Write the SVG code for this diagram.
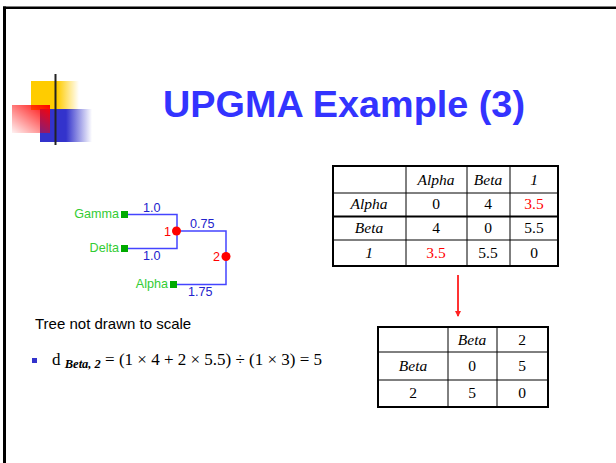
<svg xmlns="http://www.w3.org/2000/svg" width="616" height="463" viewBox="0 0 616 463">
<style>
.tl{font-family:"Liberation Sans",Arial,sans-serif;font-size:12.6px}
.leaf{fill:#33cc33;text-anchor:end}
.br{fill:#2222cc}
.nl{fill:#ff0000}
.edge{stroke:#4444ff;stroke-width:1.5;fill:none}
.sq{fill:#00aa00}
.dot{fill:#ff0000}
.tt{font-family:"Liberation Serif","Times New Roman",serif;font-size:15.5px;text-anchor:middle;fill:#000}
.it{font-style:italic}
.red{fill:#ff0000}
.tb{stroke:#000;fill:none}
</style>
<defs>
<linearGradient id="gy" x1="0" y1="0" x2="1" y2="0"><stop offset="0.55" stop-color="#ffcc00"/><stop offset="1" stop-color="#ffcc00" stop-opacity="0"/></linearGradient>
<linearGradient id="gb" x1="0" y1="0" x2="1" y2="0"><stop offset="0.5" stop-color="#3333cc"/><stop offset="1" stop-color="#3333cc" stop-opacity="0"/></linearGradient>
<linearGradient id="gr" x1="1" y1="0" x2="0" y2="1"><stop offset="0" stop-color="#ff0000"/><stop offset="1" stop-color="#ff0000" stop-opacity="0.05"/></linearGradient>
<linearGradient id="gl" x1="0" y1="0" x2="1" y2="0"><stop offset="0" stop-color="#222"/><stop offset="0.6" stop-color="#999"/><stop offset="1" stop-color="#fff"/></linearGradient>
<marker id="ah" markerWidth="6" markerHeight="6" refX="5" refY="3" orient="auto" viewBox="0 0 6 6" markerUnits="userSpaceOnUse"><path d="M0,0 L6,3 L0,6 z" fill="#ff2222"/></marker>
</defs>
<rect width="616" height="463" fill="#fff"/>
<!-- frame -->
<line x1="4.5" y1="6.5" x2="4.5" y2="463" stroke="#000" stroke-width="3"/>
<line x1="3" y1="7.8" x2="616" y2="7.8" stroke="#000" stroke-width="2.5"/>
<!-- logo -->
<g id="logo">
<rect x="31" y="81" width="48" height="29" fill="url(#gy)"/>
<rect x="40" y="109" width="52" height="33" fill="url(#gb)"/>
<rect x="12" y="105" width="38" height="28" fill="url(#gr)"/>
<line x1="33" y1="128" x2="570" y2="128" stroke="url(#gl)" stroke-width="2"/>
<line x1="55.5" y1="74" x2="55.5" y2="145" stroke="#222" stroke-width="2"/>
</g>
<g id="title"><text x="344" y="117" text-anchor="middle" font-family="Liberation Sans,Arial,sans-serif" font-weight="bold" font-size="37.8" fill="#3333ff">UPGMA Example (3)</text></g>
<!-- tree -->
<g id="connectors">
<polyline class="edge" points="128,214.5 177,214.5 177,248.5 128,248.5"/>
<polyline class="edge" points="177,231 226,231 226,284.5 177,284.5"/>
<line x1="458" y1="275" x2="458" y2="316" stroke="#ff3333" stroke-width="2" marker-end="url(#ah)"/>
</g>
<g id="gamma"><rect class="sq" x="121" y="211" width="7" height="7"/><text class="tl leaf" x="119" y="218">Gamma</text></g>
<g id="delta"><rect class="sq" x="121" y="245" width="7" height="7"/><text class="tl leaf" x="119" y="252">Delta</text></g>
<g id="alpha"><rect class="sq" x="170" y="281" width="7" height="7"/><text class="tl leaf" x="168" y="288">Alpha</text></g>
<g id="node1"><circle class="dot" cx="176.5" cy="231" r="4.5"/><text class="tl nl" x="164" y="236">1</text></g>
<g id="node2"><circle class="dot" cx="226" cy="256.5" r="4.5"/><text class="tl nl" x="213" y="261">2</text></g>
<g id="edge-labels" class="tl br">
<text x="143" y="212">1.0</text>
<text x="143" y="260">1.0</text>
<text x="190" y="228">0.75</text>
<text x="188" y="296">1.75</text>
</g>
<!-- table 1 -->
<g id="table1">
<rect class="tb" x="333" y="166" width="225" height="100" stroke-width="2"/>
<line class="tb" x1="406" y1="166" x2="406" y2="266"/>
<line class="tb" x1="467" y1="166" x2="467" y2="266"/>
<line class="tb" x1="510" y1="166" x2="510" y2="266"/>
<line class="tb" x1="333" y1="193" x2="558" y2="193"/>
<line class="tb" x1="333" y1="216.5" x2="558" y2="216.5" stroke-width="2"/>
<line class="tb" x1="333" y1="240" x2="558" y2="240"/>
<text class="tt it" x="436" y="185">Alpha</text>
<text class="tt it" x="488" y="185">Beta</text>
<text class="tt it" x="534" y="185">1</text>
<text class="tt it" x="369" y="209">Alpha</text>
<text class="tt" x="436" y="209">0</text>
<text class="tt" x="488" y="209">4</text>
<text class="tt red" x="534" y="209">3.5</text>
<text class="tt it" x="369" y="233">Beta</text>
<text class="tt" x="436" y="233">4</text>
<text class="tt" x="488" y="233">0</text>
<text class="tt" x="534" y="233">5.5</text>
<text class="tt it" x="369" y="258">1</text>
<text class="tt red" x="436" y="258">3.5</text>
<text class="tt" x="488" y="258">5.5</text>
<text class="tt" x="534" y="258">0</text>
</g>
<!-- table 2 -->
<g id="table2">
<rect class="tb" x="378" y="327" width="170" height="80" stroke-width="2"/>
<line class="tb" x1="448" y1="327" x2="448" y2="407"/>
<line class="tb" x1="497" y1="327" x2="497" y2="407"/>
<line class="tb" x1="378" y1="352" x2="548" y2="352"/>
<line class="tb" x1="378" y1="380" x2="548" y2="380"/>
<text class="tt it" x="472" y="345">Beta</text>
<text class="tt" x="522" y="345">2</text>
<text class="tt it" x="413" y="371">Beta</text>
<text class="tt" x="472" y="371">0</text>
<text class="tt" x="522" y="371">5</text>
<text class="tt" x="413" y="398">2</text>
<text class="tt" x="472" y="398">5</text>
<text class="tt" x="522" y="398">0</text>
</g>
<g id="note"><text x="35" y="329" font-family="Liberation Sans,Arial,sans-serif" font-size="15" fill="#000">Tree not drawn to scale</text></g>
<g id="formula">
<rect x="32" y="358" width="5" height="5" fill="#3333cc"/>
<text x="52" y="365" font-family="Liberation Serif,Times New Roman,serif" font-size="17" fill="#000">d <tspan font-size="12.5" font-weight="bold" font-style="italic" dy="3">Beta, 2</tspan><tspan dy="-3"> = (1 × 4 + 2 × 5.5) ÷ (1 × 3) = 5</tspan></text>
</g>
</svg>
